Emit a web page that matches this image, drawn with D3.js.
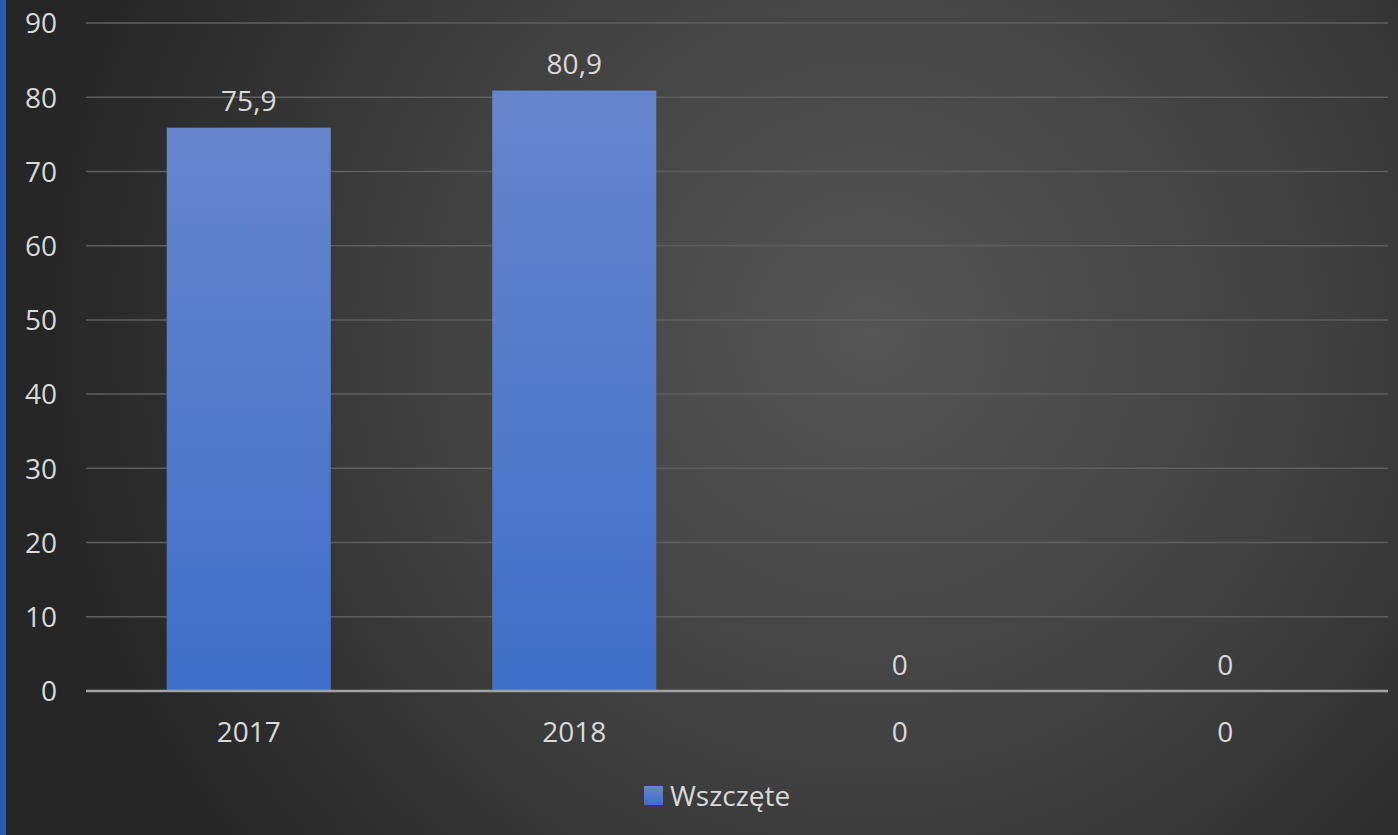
<!DOCTYPE html>
<html><head><meta charset="utf-8">
<script src="https://cdn.jsdelivr.net/npm/d3@7"></script>
<style>html,body{margin:0;padding:0;background:#2a2a2a;overflow:hidden}svg{display:block}</style>
</head><body>
<svg id="c" width="1398" height="835"></svg>
<script>
const categories = ["2017", "2018", "0", "0"];
const values = [75.9, 80.9, 0, 0];
const seriesName = "Wszczęte";
const yTicks = [0, 10, 20, 30, 40, 50, 60, 70, 80, 90];

const W = 1398, H = 835;
const m = {left: 86, right: 10, top: 23, bottom: 144};
const svg = d3.select("#c");
const defs = svg.append("defs");
const rg = defs.append("radialGradient").attr("id","bg").attr("gradientUnits","userSpaceOnUse")
  .attr("cx", 870).attr("cy", 330).attr("r", 820);
rg.append("stop").attr("offset","0").attr("stop-color","#555555");
rg.append("stop").attr("offset","0.55").attr("stop-color","#404040");
rg.append("stop").attr("offset","1").attr("stop-color","#262626");
const bg = defs.append("linearGradient").attr("id","bar").attr("x1",0).attr("y1",0).attr("x2",0).attr("y2",1);
bg.append("stop").attr("offset","0").attr("stop-color","#6685cc");
bg.append("stop").attr("offset","1").attr("stop-color","#3f6fc9");

svg.append("rect").attr("width",W).attr("height",H).attr("fill","url(#bg)");
svg.append("rect").attr("x",0).attr("y",0).attr("width",6).attr("height",H).attr("fill","#2a5ea8");

const font = "'Open Sans', 'Noto Sans', sans-serif";
const fs = "28px";
const keys = categories.map((c,i)=>i);
const x = d3.scaleBand().domain(keys).range([m.left, W - m.right]).paddingInner(0).paddingOuter(0);
const y = d3.scaleLinear().domain([0, 90]).range([H - m.bottom, m.top]);
const barW = x.bandwidth() * 0.504;

// gridlines
svg.append("g").selectAll("line").data(yTicks.filter(t=>t>0)).join("line")
  .attr("x1", m.left).attr("x2", W - m.right)
  .attr("y1", d=>y(d)).attr("y2", d=>y(d))
  .attr("stroke", "#5f5f5f").attr("stroke-width", 1.5);

// y axis labels
const yAxis = svg.append("g").attr("transform", `translate(${m.left - 29},0)`)
  .call(d3.axisLeft(y).tickValues(yTicks).tickSize(0).tickPadding(0).tickFormat(d3.format("d")));
yAxis.select(".domain").remove();
yAxis.selectAll("text").attr("fill","#d9d9d9").style("font-family",font).style("font-size",fs).attr("dy","0.35em");

// bars
svg.append("g").selectAll("rect").data(values).join("rect")
  .attr("x", (d,i)=>x(i) + (x.bandwidth()-barW)/2)
  .attr("y", d=>y(d)).attr("width", barW).attr("height", d=>y(0)-y(d))
  .attr("fill", "url(#bar)");

// baseline
svg.append("line").attr("x1", m.left).attr("x2", W - m.right).attr("y1", y(0)).attr("y2", y(0))
  .attr("stroke","#a3a3a3").attr("stroke-width",2.5);

// data labels
svg.append("g").selectAll("text").data(values).join("text")
  .attr("x", (d,i)=>x(i) + x.bandwidth()/2).attr("y", d=>y(d) - 26)
  .attr("text-anchor","middle").attr("dy","0.35em")
  .attr("fill","#d9d9d9").style("font-family",font).style("font-size",fs)
  .text(d=>d3.format(".1f")(d).replace(".",",").replace(/,0$/,""));

// x axis labels
const xAxis = svg.append("g").attr("transform", `translate(0,${y(0)})`)
  .call(d3.axisBottom(x).tickSize(0).tickPadding(0).tickFormat(i=>categories[i]));
xAxis.select(".domain").remove();
xAxis.selectAll("text").attr("y", 41).attr("dy","0.35em").attr("fill","#d9d9d9").style("font-family",font).style("font-size",fs);

// legend
const lg = svg.append("g").attr("transform","translate(644,786)");
lg.append("rect").attr("width",19).attr("height",19).attr("fill","url(#bar)");
lg.append("text").attr("x",26).attr("y",10).attr("dy","0.35em").attr("fill","#d9d9d9")
  .style("font-family",font).style("font-size",fs).text(seriesName);
</script>
</body></html>
